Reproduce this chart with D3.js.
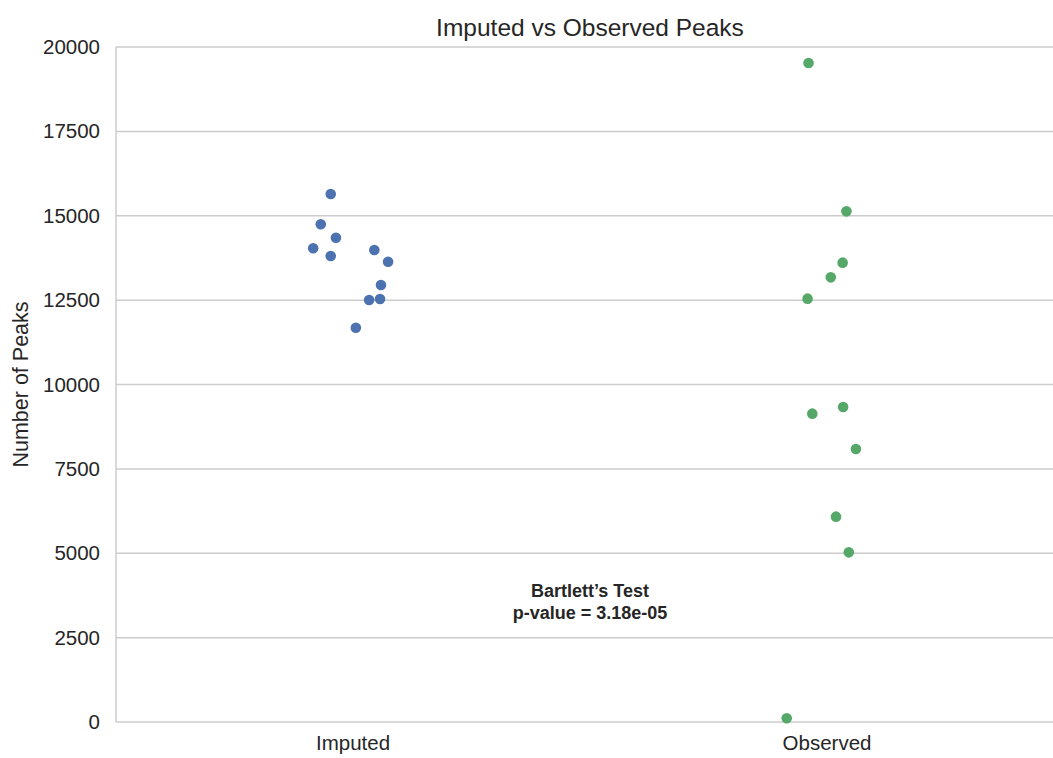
<!DOCTYPE html>
<html>
<head>
<meta charset="utf-8">
<script src="https://cdn.jsdelivr.net/npm/d3@7"></script>
<style>
  html, body { margin: 0; padding: 0; background: #fff; overflow: hidden; }
  svg { display: block; font-family: "Liberation Sans", Arial, sans-serif; }
</style>
</head>
<body>
<svg id="chart" width="1053" height="758"></svg>
<script>
// Groups on the x axis
const categories = ["Imputed", "Observed"];

// Peak counts per sample, with the horizontal strip jitter (fraction of band width)
const imputedPeaks  = [15644, 14747, 14350, 14036, 13807, 13985, 13639, 12948, 12504, 12533, 11683];
const imputedJitter = [-0.047, -0.068, -0.036, -0.084, -0.047, 0.045, 0.074, 0.059, 0.034, 0.057, 0.006];

const observedPeaks  = [19526, 15131, 13610, 13175, 12543, 9136, 9333, 8089, 6084, 5027, 110];
const observedJitter = [-0.039, 0.041, 0.033, 0.008, -0.041, -0.031, 0.034, 0.061, 0.019, 0.046, -0.085];

const yTicks = [0, 2500, 5000, 7500, 10000, 12500, 15000, 17500, 20000];
const colors = ["#4c72b0", "#55a868"];

const series = [
  { cat: categories[0], values: imputedPeaks,  jitter: imputedJitter },
  { cat: categories[1], values: observedPeaks, jitter: observedJitter }
];

const margin = { left: 116, top: 47, right: 1064, bottom: 722 };
const svg = d3.select("#chart");

const x = d3.scaleBand().domain(categories).range([margin.left, margin.right]);
const y = d3.scaleLinear().domain([0, 20000]).range([margin.bottom, margin.top]);

const textColor = "#262626";
const gridColor = "#cccccc";

// Horizontal grid
svg.append("g")
  .selectAll("line")
  .data(yTicks)
  .join("line")
  .attr("x1", margin.left).attr("x2", margin.right)
  .attr("y1", d => y(d)).attr("y2", d => y(d))
  .attr("stroke", gridColor).attr("stroke-width", 1.5);

// Left spine
svg.append("line")
  .attr("x1", margin.left).attr("x2", margin.left)
  .attr("y1", margin.top).attr("y2", margin.bottom)
  .attr("stroke", gridColor).attr("stroke-width", 1.5);

// Y axis labels
const yAxis = d3.axisLeft(y).tickValues(yTicks).tickSize(0).tickPadding(16).tickFormat(d3.format("d"));
const yg = svg.append("g").attr("transform", `translate(${margin.left},0)`).call(yAxis);
yg.select(".domain").remove();
yg.selectAll("text").attr("font-size", 20.5).attr("fill", textColor).attr("font-family", "Liberation Sans, Arial, sans-serif");

// X axis labels
const xAxis = d3.axisBottom(x).tickSize(0).tickPadding(13);
const xg = svg.append("g").attr("transform", `translate(0,${margin.bottom})`).call(xAxis);
xg.select(".domain").remove();
xg.selectAll("text").attr("font-size", 20.5).attr("fill", textColor).attr("font-family", "Liberation Sans, Arial, sans-serif");

// Strip points
series.forEach((s, i) => {
  svg.append("g")
    .selectAll("circle")
    .data(s.values.map((v, j) => ({ v, jit: s.jitter[j] })))
    .join("circle")
    .attr("cx", d => x(s.cat) + x.bandwidth() / 2 + d.jit * x.bandwidth())
    .attr("cy", d => y(d.v))
    .attr("r", 5.3)
    .attr("fill", colors[i]);
});

// Title
svg.append("text")
  .attr("x", (margin.left + margin.right) / 2)
  .attr("y", 36)
  .attr("text-anchor", "middle")
  .attr("font-size", 24.5)
  .attr("fill", textColor)
  .text("Imputed vs Observed Peaks");

// Y axis title
svg.append("text")
  .attr("transform", `translate(28,${(margin.top + margin.bottom) / 2}) rotate(-90)`)
  .attr("text-anchor", "middle")
  .attr("font-size", 21.5)
  .attr("fill", textColor)
  .text("Number of Peaks");

// Test annotation
const note = svg.append("text")
  .attr("x", (margin.left + margin.right) / 2)
  .attr("text-anchor", "middle")
  .attr("font-size", 18)
  .attr("font-weight", "bold")
  .attr("fill", textColor);
note.append("tspan").attr("x", (margin.left + margin.right) / 2).attr("y", 597).text("Bartlett\u2019s Test");
note.append("tspan").attr("x", (margin.left + margin.right) / 2).attr("y", 619).text("p-value = 3.18e-05");
</script>
</body>
</html>
